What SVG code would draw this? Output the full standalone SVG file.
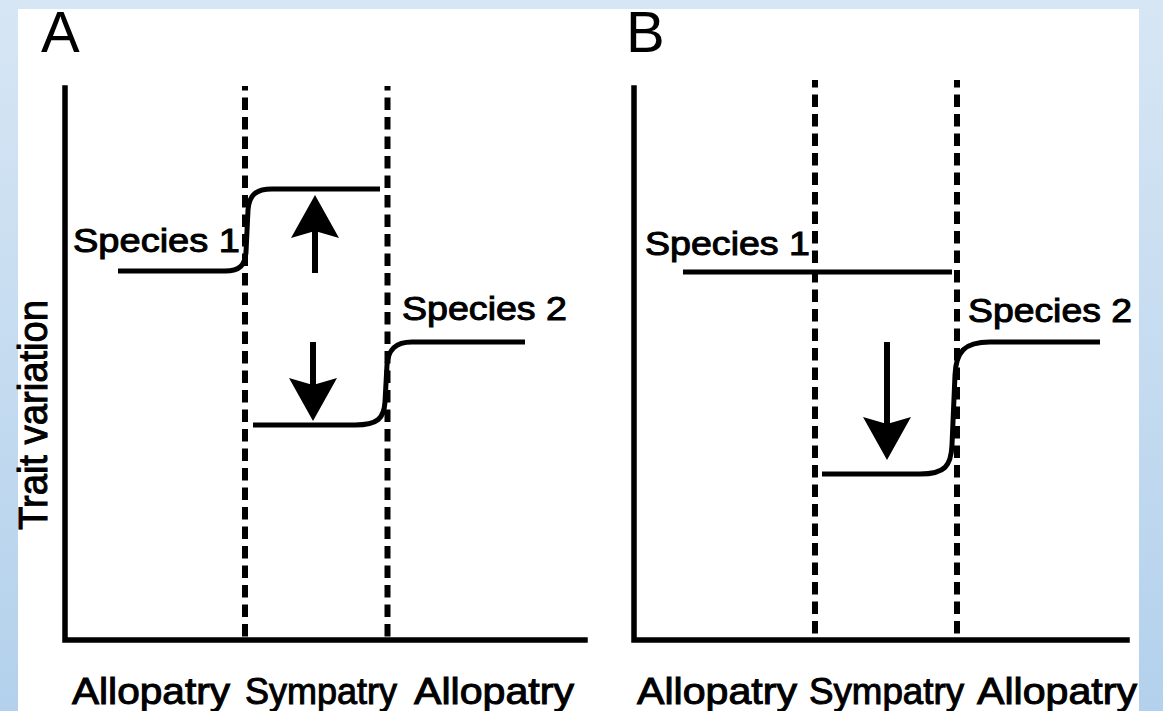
<svg xmlns="http://www.w3.org/2000/svg" width="1163" height="711" viewBox="0 0 1163 711">
  <defs>
    <linearGradient id="bg" x1="0" y1="0" x2="0" y2="1">
      <stop offset="0" stop-color="#d7e6f4"/>
      <stop offset="1" stop-color="#b3d1ec"/>
    </linearGradient>
    <marker id="head" markerUnits="userSpaceOnUse" markerWidth="44" markerHeight="48" viewBox="0 0 44 48" refX="7" refY="24" orient="auto">
      <path d="M0,0 L43,24 L0,48 L7,24 Z" fill="#000"/>
    </marker>
  </defs>
  <style>
    .axis { stroke:#000; stroke-width:5.5; fill:none; stroke-linecap:square; }
    .dot { stroke:#000; stroke-width:6; fill:none; stroke-dasharray:12.5 7; }
    .curve { stroke:#000; stroke-width:5; fill:none; }
    .arrow { stroke:#000; stroke-width:6; fill:none; marker-end:url(#head); }
    .lbl { font-family:"Liberation Sans", Arial, sans-serif; fill:#000; stroke:#000; stroke-width:1; }
    .panel { font-family:"Liberation Sans", Arial, sans-serif; font-size:58px; fill:#000; }
    .sp { font-size:33px; }
    .bt { font-size:37px; }
  </style>
  <rect x="0" y="0" width="1163" height="711" fill="url(#bg)"/>
  <rect x="18" y="9" width="1121" height="702" fill="#fff"/>

  <g id="panel-labels">
    <text class="panel" x="41" y="52">A</text>
    <text class="panel" x="626" y="52">B</text>
  </g>

  <g id="axes">
    <path class="axis" d="M65,88 L65,640 L585,640"/>
    <path class="axis" d="M634,88 L634,640 L1127,640"/>
  </g>

  <g id="zones">
    <line class="dot" x1="245" y1="86" x2="245" y2="640" stroke-dashoffset="8"/>
    <line class="dot" x1="387.5" y1="86" x2="387.5" y2="640" stroke-dashoffset="8"/>
    <line class="dot" x1="815" y1="80" x2="815" y2="640" stroke-dashoffset="5"/>
    <line class="dot" x1="957" y1="80" x2="957" y2="640" stroke-dashoffset="5"/>
  </g>

  <g id="connectors">
    <path id="a-species1" class="curve" d="M118,271 L225,271 C240,271 245,265 246,252 L248,210 C249,195 256,189 272,189 L380,189"/>
    <path id="a-species2" class="curve" d="M253,425 L355,425 C378,425 384,418 385,402 L387,365 C388,350 395,342 412,342 L525,342"/>
    <path id="b-species1" class="curve" d="M683,272 L952,272"/>
    <path id="b-species2" class="curve" d="M822,474 L920,474 C945,474 951,466 952,445 L955,375 C956,352 964,342 990,342 L1100,342"/>
    <line id="a-up" class="arrow" x1="315" y1="273" x2="315" y2="231"/>
    <line id="a-down" class="arrow" x1="313" y1="342" x2="313" y2="385"/>
    <line id="b-down" class="arrow" x1="887" y1="342" x2="887" y2="424"/>
  </g>

  <g id="labels">
    <text class="lbl" font-size="40" transform="translate(47,530) rotate(-90)" textLength="230" lengthAdjust="spacingAndGlyphs">Trait variation</text>
    <text class="lbl sp" x="73" y="252" textLength="167" lengthAdjust="spacingAndGlyphs">Species 1</text>
    <text class="lbl sp" x="402" y="320" textLength="165" lengthAdjust="spacingAndGlyphs">Species 2</text>
    <text class="lbl sp" x="645" y="255" textLength="165" lengthAdjust="spacingAndGlyphs">Species 1</text>
    <text class="lbl sp" x="968" y="322" textLength="164" lengthAdjust="spacingAndGlyphs">Species 2</text>
    <text class="lbl bt" x="72" y="704" textLength="158" lengthAdjust="spacingAndGlyphs">Allopatry</text>
    <text class="lbl bt" x="245" y="704" textLength="152" lengthAdjust="spacingAndGlyphs">Sympatry</text>
    <text class="lbl bt" x="414" y="704" textLength="160" lengthAdjust="spacingAndGlyphs">Allopatry</text>
    <text class="lbl bt" x="637" y="704" textLength="160" lengthAdjust="spacingAndGlyphs">Allopatry</text>
    <text class="lbl bt" x="809" y="704" textLength="155" lengthAdjust="spacingAndGlyphs">Sympatry</text>
    <text class="lbl bt" x="977" y="704" textLength="160" lengthAdjust="spacingAndGlyphs">Allopatry</text>
  </g>
</svg>
